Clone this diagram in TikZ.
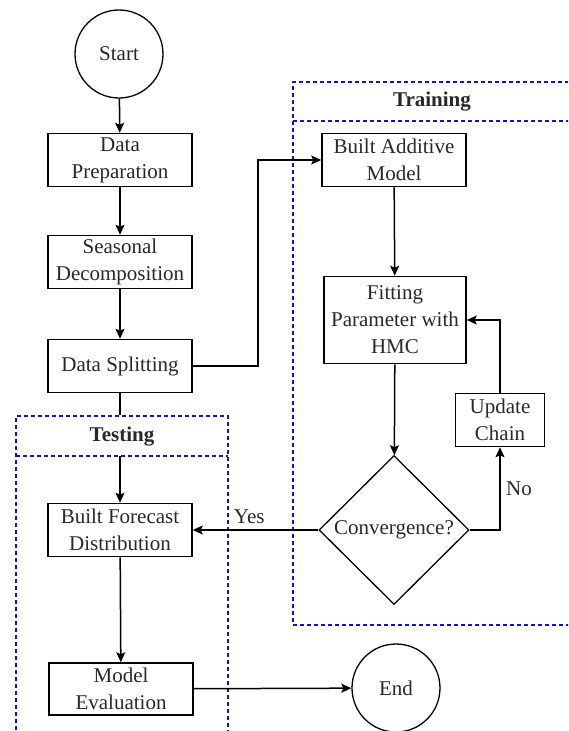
\documentclass[tikz,border=0pt]{standalone}
\usepackage{fontspec}
\setmainfont{Liberation Serif}
\usetikzlibrary{shapes.geometric,arrows.meta}
\definecolor{boxblue}{RGB}{20,20,190}
\definecolor{inkgray}{RGB}{40,40,40}
\tikzset{
  stepbox/.style={draw,line width=1.5pt,fill=white,align=center,inner sep=0pt,
    minimum width=144pt,minimum height=53pt},
  terminal/.style={draw,circle,line width=1.3pt,inner sep=0pt,minimum size=88pt},
  decision/.style={draw,diamond,line width=1.3pt,inner sep=0pt,
    minimum width=150pt,minimum height=149pt},
  group/.style={draw=boxblue,dash pattern=on 4pt off 3pt,line width=1.1pt,
    inner sep=0pt},
  arr/.style={line width=1.5pt,-{Stealth[length=10pt,width=9pt,inset=2pt]}},
  link/.style={line width=1.5pt},
}
\begin{document}
\begin{tikzpicture}[x=1pt,y=-1pt,text=inkgray,font=\rmfamily\fontsize{21}{27}\selectfont]
\useasboundingbox (0,0) rectangle (568,731);
\clip (0,0) rectangle (568,731);

\node[group,minimum width=297pt,minimum height=543pt] (trainbox) at (441.5,353.5) {};
\draw[group] (293,121) -- (590,121);
\node[font=\rmfamily\bfseries\fontsize{21}{27}\selectfont] (trainlbl) at (432,102) {Training};

\node[group,minimum width=212pt,minimum height=344pt] (testbox) at (122,588) {};
\draw[group] (16,456) coordinate (testhead) -- (228,456);
\node[font=\rmfamily\bfseries\fontsize{21}{27}\selectfont] (testlbl) at (122,437) {Testing};

\node[terminal] (start) at (119,54) {Start};
\node[stepbox] (prep) at (120,160) {Data\\Preparation};
\node[stepbox] (seas) at (120,262) {Seasonal\\Decomposition};
\node[stepbox] (split) at (120,366) {Data Splitting};

\node[stepbox] (built) at (394,160) {Built Additive\\Model};
\node[stepbox,minimum width=142pt,minimum height=87pt] (fit) at (395,320) {Fitting\\Parameter with\\HMC};
\node[stepbox,minimum width=89pt] (upd) at (500,420) {Update\\Chain};
\node[decision] (conv) at (394,530) {Convergence?};

\node[stepbox] (fore) at (120,530) {Built Forecast\\Distribution};
\node[stepbox,minimum height=52pt] (evalm) at (121,689) {Model\\Evaluation};
\node[terminal] (end) at (396,688) {End};

\draw[arr] (start) -- (prep);
\draw[arr] (prep) -- (seas);
\draw[arr] (seas) -- (split);
\draw[arr] (split.east) -- ++(65,0) |- (built.west);
\draw[link] (split.south) -- (split.south |- testbox.north);
\draw[arr] (fore.north |- testhead) -- (fore.north);

\draw[arr] (built) -- (fit);
\draw[arr] (fit) -- (conv);
\draw[arr] (conv.east) -| (upd.south) node[pos=0.75,right=2pt] (nolbl) {No};
\draw[arr] (upd.north) |- (fit.east);
\draw[arr] (conv.west) -- (fore.east) node[pos=0.55,above=2pt] (yeslbl) {Yes};

\draw[arr] (fore) -- (evalm);
\draw[arr] (evalm) -- (end);
\end{tikzpicture}
\end{document}
